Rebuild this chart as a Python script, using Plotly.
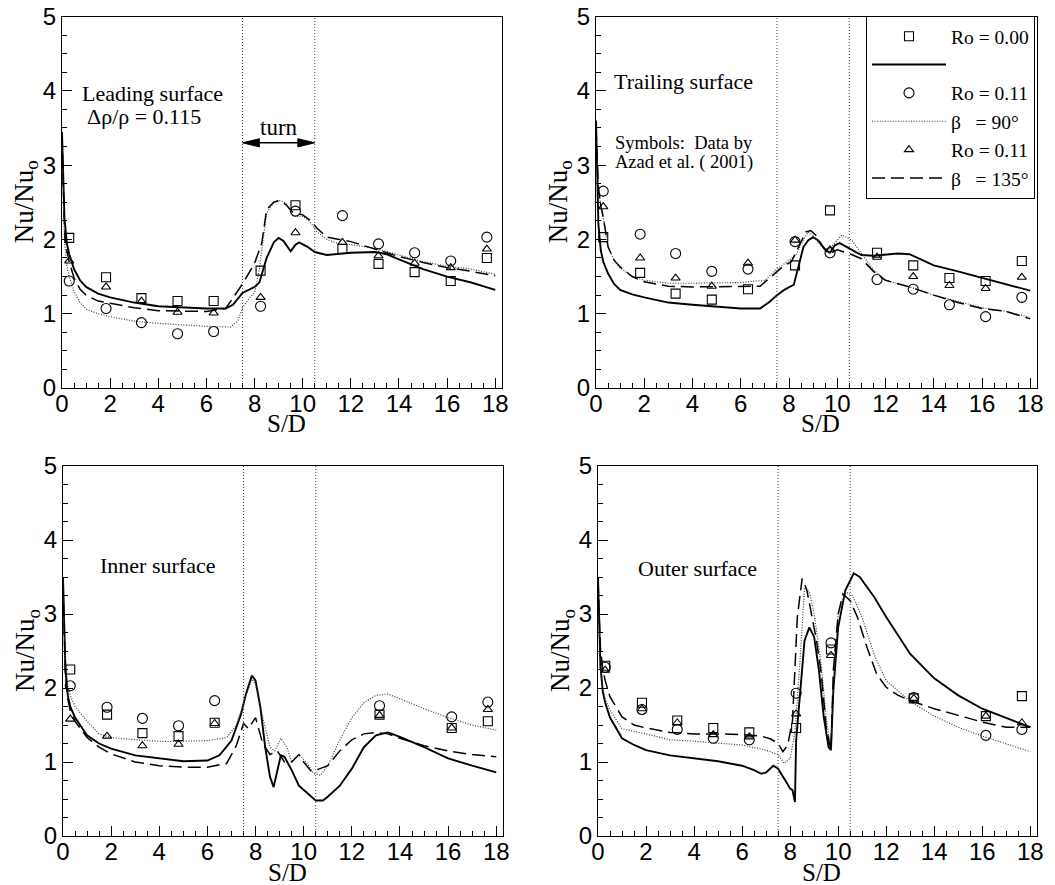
import plotly.graph_objects as go

# ---------------- data ----------------
S_EXP = [0.3, 1.83, 3.3, 4.8, 6.3, 8.25, 9.7, 11.65, 13.15, 14.65, 16.15, 17.65]

# Leading surface
LEAD_SQ = [2.02, 1.49, 1.21, 1.17, 1.17, 1.58, 2.46, 1.87, 1.67, 1.56, 1.44, 1.75]
LEAD_CI = [1.44, 1.07, 0.88, 0.73, 0.76, 1.10, 2.38, 2.32, 1.94, 1.82, 1.71, 2.03]
LEAD_TR = [1.71, 1.36, 1.17, 1.02, 1.01, 1.22, 2.09, 1.96, 1.78, 1.68, 1.62, 1.87]
LEAD_SOLID_X = [0, 0.05, 0.1, 0.2, 0.3, 0.5, 0.75, 1, 1.5, 2, 3, 4, 5, 6, 6.8, 7.1, 7.5, 8, 8.2, 8.5, 8.8, 9.0, 9.2, 9.5, 9.7, 9.85, 10.2, 10.5, 11, 12, 13, 13.5, 14, 15, 16, 17, 18]
LEAD_SOLID_Y = [3.45, 2.7, 2.3, 1.95, 1.8, 1.6, 1.45, 1.36, 1.27, 1.22, 1.15, 1.1, 1.08, 1.07, 1.07, 1.12, 1.28, 1.36, 1.42, 1.75, 1.96, 2.02, 1.98, 1.84, 1.93, 1.96, 1.9, 1.83, 1.79, 1.82, 1.83, 1.8, 1.73, 1.6, 1.5, 1.42, 1.32]
LEAD_DASH_X = [0, 0.05, 0.1, 0.2, 0.3, 0.5, 0.75, 1, 1.5, 2, 3, 4, 5, 6, 6.8, 7.2, 7.5, 8, 8.3, 8.5, 8.8, 9.0, 9.3, 9.6, 10, 10.3, 10.6, 11, 12, 13, 14, 15, 16, 17, 18]
LEAD_DASH_Y = [3.4, 2.6, 2.2, 1.85, 1.7, 1.48, 1.33, 1.25, 1.17, 1.14, 1.08, 1.04, 1.03, 1.03, 1.07, 1.25, 1.4, 1.68, 1.95, 2.4, 2.5, 2.52, 2.47, 2.36, 2.33, 2.26, 2.15, 2.03, 1.97, 1.87, 1.77, 1.69, 1.62, 1.57, 1.51]
LEAD_DOT_X = [0, 0.05, 0.1, 0.2, 0.3, 0.5, 0.75, 1, 1.5, 2, 3, 4, 5, 6, 7, 7.3, 7.5, 7.8, 8, 8.2, 8.5, 8.8, 9.0, 9.3, 9.6, 10, 10.3, 10.6, 11, 11.5, 12, 13, 14, 15, 16, 17, 18]
LEAD_DOT_Y = [3.3, 2.4, 2.0, 1.65, 1.5, 1.3, 1.15, 1.06, 1.0, 0.96, 0.9, 0.87, 0.85, 0.83, 0.82, 0.9, 1.08, 1.22, 1.28, 1.6, 2.35, 2.5, 2.53, 2.49, 2.31, 2.31, 2.24, 2.1, 2.0, 1.94, 1.93, 1.88, 1.79, 1.7, 1.64, 1.6, 1.53]

# Trailing surface
TRAIL_SQ = [2.03, 1.55, 1.27, 1.19, 1.33, 1.65, 2.39, 1.82, 1.65, 1.48, 1.44, 1.71]
TRAIL_CI = [2.65, 2.07, 1.81, 1.57, 1.60, 1.97, 1.82, 1.46, 1.33, 1.12, 0.96, 1.22]
TRAIL_TR = [2.44, 1.75, 1.48, 1.37, 1.68, 1.99, 1.86, 1.76, 1.50, 1.38, 1.34, 1.49]
TRAIL_SOLID_X = [0, 0.05, 0.1, 0.2, 0.3, 0.5, 0.75, 1, 1.5, 2, 3, 4, 5, 6, 6.8, 7.2, 7.5, 7.8, 8.2, 8.4, 8.6, 8.8, 9.0, 9.2, 9.5, 9.7, 9.9, 10.1, 10.5, 11, 11.5, 12, 12.5, 13, 14, 15, 16, 17, 18]
TRAIL_SOLID_Y = [3.6, 2.7, 2.2, 1.85, 1.7, 1.54, 1.4, 1.32, 1.26, 1.22, 1.15, 1.12, 1.09, 1.07, 1.07, 1.16, 1.25, 1.32, 1.39, 1.63, 1.9, 1.99, 2.03, 1.99, 1.86, 1.82, 1.92, 1.95, 1.88, 1.79, 1.78, 1.79, 1.81, 1.8, 1.65, 1.57, 1.48, 1.39, 1.31]
TRAIL_DASH_X = [0, 0.05, 0.1, 0.2, 0.3, 0.5, 0.75, 1, 1.5, 2, 3, 4, 5, 6, 6.8, 7.2, 7.5, 7.8, 8.1, 8.4, 8.7, 8.9, 9.1, 9.4, 9.7, 10, 10.5, 11, 11.5, 12, 13, 14, 15, 16, 17, 18]
TRAIL_DASH_Y = [3.5, 3.0, 2.7, 2.45, 2.3, 1.9, 1.72, 1.63, 1.5, 1.43, 1.37, 1.36, 1.36, 1.36, 1.37, 1.48, 1.57, 1.65, 1.7, 1.9, 2.1, 2.12, 2.06, 1.9, 1.81, 1.86, 1.81, 1.74, 1.57, 1.45, 1.36, 1.25, 1.15, 1.07, 1.03, 0.93]
TRAIL_DOT_X = [0, 0.05, 0.1, 0.2, 0.3, 0.5, 0.75, 1, 1.5, 2, 3, 4, 5, 6, 7, 7.5, 8, 8.3, 8.6, 8.8, 9.0, 9.3, 9.6, 9.9, 10.2, 10.6, 11, 11.5, 12, 13, 14, 15, 16, 17, 18]
TRAIL_DOT_Y = [3.5, 3.0, 2.7, 2.45, 2.3, 1.9, 1.72, 1.62, 1.5, 1.45, 1.41, 1.41, 1.42, 1.42, 1.45, 1.6, 1.72, 1.8, 2.0, 2.1, 2.05, 1.92, 1.85, 1.95, 2.06, 1.99, 1.81, 1.59, 1.45, 1.36, 1.25, 1.16, 1.08, 1.03, 0.95]

# Inner surface
INNER_SQ = [2.25, 1.64, 1.39, 1.35, 1.53, None, None, None, 1.64, None, 1.46, 1.55]
INNER_CI = [2.03, 1.74, 1.59, 1.49, 1.83, None, None, None, 1.76, None, 1.61, 1.81]
INNER_TR = [1.58, 1.35, 1.22, 1.24, 1.52, None, None, None, 1.63, None, 1.46, 1.71]
INNER_SOLID_X = [0, 0.05, 0.1, 0.2, 0.3, 0.5, 1, 1.5, 2, 3, 4, 5, 6, 6.5, 7, 7.4, 7.6, 7.85, 8.0, 8.2, 8.4, 8.6, 8.75, 8.9, 9.05, 9.2, 9.5, 9.8, 10.2, 10.5, 10.8, 11, 11.5, 12, 12.5, 13, 13.5, 14, 15, 16, 17, 18]
INNER_SOLID_Y = [3.5, 2.7, 2.25, 1.9, 1.75, 1.6, 1.36, 1.25, 1.18, 1.09, 1.05, 1.01, 1.02, 1.09, 1.29, 1.65, 1.92, 2.17, 2.1, 1.74, 1.2, 0.8, 0.66, 0.89, 1.09, 1.07, 0.89, 0.68, 0.56, 0.48, 0.48, 0.53, 0.68, 0.91, 1.2, 1.36, 1.4, 1.34, 1.2, 1.05, 0.95, 0.86]
INNER_DASH_X = [0, 0.05, 0.1, 0.2, 0.3, 0.5, 1, 1.5, 2, 3, 4, 5, 6, 6.8, 7.2, 7.5, 7.7, 8.0, 8.3, 8.6, 8.9, 9.2, 9.5, 9.8, 10.0, 10.3, 10.6, 11, 11.5, 12, 12.5, 13, 13.5, 14, 15, 16, 17, 18]
INNER_DASH_Y = [3.4, 2.6, 2.2, 1.85, 1.7, 1.55, 1.33, 1.2, 1.11, 1.0, 0.95, 0.93, 0.93, 0.98, 1.22, 1.52, 1.45, 1.6, 1.25, 1.1, 1.15, 1.0, 1.0, 1.1, 1.0, 0.88, 0.9, 0.95, 1.15, 1.3, 1.38, 1.4, 1.38, 1.32, 1.22, 1.15, 1.1, 1.07]
INNER_DOT_X = [0, 0.05, 0.1, 0.2, 0.3, 0.5, 1, 1.5, 2, 3, 4, 5, 6, 6.8, 7.2, 7.5, 7.85, 8.0, 8.3, 8.6, 8.8, 9.05, 9.3, 9.5, 9.8, 10.1, 10.4, 10.7, 11, 11.5, 12, 12.5, 13, 13.5, 14, 15, 16, 17, 18]
INNER_DOT_Y = [3.5, 2.8, 2.4, 2.05, 1.9, 1.75, 1.55, 1.38, 1.33, 1.3, 1.28, 1.28, 1.29, 1.33, 1.5, 1.8, 2.12, 2.05, 1.6, 1.2, 1.15, 1.32, 1.2, 1.0, 1.1, 1.0, 0.85, 0.82, 0.95, 1.3, 1.6, 1.8, 1.9, 1.92, 1.85, 1.72, 1.6, 1.5, 1.43]

# Outer surface
OUTER_SQ = [2.30, 1.80, 1.56, 1.46, 1.40, 1.46, 2.52, None, 1.86, None, 1.62, 1.89]
OUTER_CI = [2.28, 1.71, 1.44, 1.32, 1.30, 1.93, 2.61, None, 1.87, None, 1.36, 1.44]
OUTER_TR = [2.24, 1.72, 1.53, 1.37, 1.34, 1.65, 2.44, None, 1.86, None, 1.62, 1.53]
OUTER_SOLID_X = [0, 0.05, 0.1, 0.2, 0.3, 0.5, 1, 1.5, 2, 3, 4, 5, 6, 6.5, 6.8, 7.0, 7.3, 7.5, 7.8, 8.0, 8.1, 8.2, 8.25, 8.4, 8.6, 8.8, 9.0, 9.2, 9.4, 9.6, 9.7, 9.8, 10.0, 10.3, 10.65, 10.9, 11.5, 12, 13, 14, 15, 16, 17, 18]
OUTER_SOLID_Y = [3.5, 2.8, 2.3, 1.95, 1.8, 1.6, 1.32, 1.23, 1.16, 1.09, 1.05, 1.01, 0.95, 0.89, 0.84, 0.86, 0.95, 0.91, 0.75, 0.64, 0.62, 0.46, 1.29, 1.83, 2.64, 2.82, 2.69, 2.24, 1.61, 1.2, 1.16, 1.97, 2.82, 3.32, 3.55, 3.5, 3.23, 2.96, 2.46, 2.13, 1.9, 1.72, 1.59, 1.47]
OUTER_DASH_X = [0, 0.05, 0.1, 0.2, 0.3, 0.5, 1, 1.5, 2, 3, 4, 5, 6, 6.8, 7.2, 7.5, 7.7, 7.9, 8.1, 8.3, 8.5, 8.7, 8.9, 9.1, 9.3, 9.5, 9.7, 9.8, 10.0, 10.2, 10.5, 10.8, 11.2, 11.6, 12, 12.5, 13, 14, 15, 16, 17, 18]
OUTER_DASH_Y = [3.45, 2.9, 2.55, 2.25, 2.1, 1.88, 1.61, 1.5, 1.46, 1.4, 1.38, 1.38, 1.37, 1.35, 1.31, 1.25, 1.14, 1.23, 1.56, 2.96, 3.48, 3.32, 2.96, 2.64, 2.19, 1.47, 1.16, 2.24, 3.0, 3.27, 3.18, 2.96, 2.55, 2.19, 2.01, 1.9, 1.83, 1.72, 1.63, 1.54, 1.47, 1.47]
OUTER_DOT_X = [0, 0.05, 0.1, 0.2, 0.3, 0.5, 1, 2, 3, 4, 5, 6, 7, 7.5, 7.75, 8.0, 8.2, 8.4, 8.6, 8.8, 9.0, 9.3, 9.5, 9.7, 9.8, 10.0, 10.3, 10.6, 11, 11.5, 12, 13, 14, 15, 16, 17, 18]
OUTER_DOT_Y = [3.4, 2.7, 2.35, 2.0, 1.85, 1.7, 1.45, 1.38, 1.3, 1.28, 1.26, 1.23, 1.16, 1.1, 0.98, 1.05, 1.4, 2.3, 3.35, 3.3, 3.0, 2.3, 1.6, 1.15, 2.0, 3.0, 3.3, 3.25, 2.95, 2.45, 2.1, 1.82, 1.62, 1.47, 1.35, 1.25, 1.14]

TURN_BOUNDS = [7.5, 10.5]
X_TICKS = [0, 2, 4, 6, 8, 10, 12, 14, 16, 18]
Y_TICKS = [0, 1, 2, 3, 4, 5]

LEGEND_NAMES = ["Ro = 0.00", " ", "Ro = 0.11", "β\u00a0\u00a0\u00a0= 90°", "Ro = 0.11", "β\u00a0\u00a0\u00a0= 135°"]

# ---------------- layout constants ----------------
# The page body adds an 8 px margin, so the figure is drawn 8 px smaller and
# reference pixel positions are shifted by OFF.
OFF = 8
W, H = 1055 - OFF, 885 - OFF
X_RANGE = [0, 18.28]
SERIF = "Liberation Serif, Times New Roman, serif"
SANS = "Liberation Sans, Arial, sans-serif"

# panel boxes in reference window pixels (left, right, top, bottom)
BOXES = [(62, 502, 16.5, 388), (596, 1037, 16.5, 388), (63, 503, 466, 836), (598, 1037, 466, 836)]

def px_x(v):
    return (v - OFF) / W

def px_y(v):
    return (H - (v - OFF)) / H

panels = [
    dict(sq=LEAD_SQ, ci=LEAD_CI, tr=LEAD_TR, solid=(LEAD_SOLID_X, LEAD_SOLID_Y), dash=(LEAD_DASH_X, LEAD_DASH_Y), dot=(LEAD_DOT_X, LEAD_DOT_Y)),
    dict(sq=TRAIL_SQ, ci=TRAIL_CI, tr=TRAIL_TR, solid=(TRAIL_SOLID_X, TRAIL_SOLID_Y), dash=(TRAIL_DASH_X, TRAIL_DASH_Y), dot=(TRAIL_DOT_X, TRAIL_DOT_Y)),
    dict(sq=INNER_SQ, ci=INNER_CI, tr=INNER_TR, solid=(INNER_SOLID_X, INNER_SOLID_Y), dash=(INNER_DASH_X, INNER_DASH_Y), dot=(INNER_DOT_X, INNER_DOT_Y)),
    dict(sq=OUTER_SQ, ci=OUTER_CI, tr=OUTER_TR, solid=(OUTER_SOLID_X, OUTER_SOLID_Y), dash=(OUTER_DASH_X, OUTER_DASH_Y), dot=(OUTER_DOT_X, OUTER_DOT_Y)),
]

fig = go.Figure()

SOLID = dict(color="black", width=1.9)
DOT = dict(color="#3a3a3a", width=1.2, dash="1px,1.6px")
DASH = dict(color="black", width=1.5, dash="13px,6px")

for i, p in enumerate(panels):
    sfx = "" if i == 0 else str(i + 1)
    xa, ya = "x" + sfx, "y" + sfx
    show = (i == 1)
    fig.add_trace(go.Scatter(x=p["solid"][0], y=p["solid"][1], mode="lines", line=SOLID,
                             xaxis=xa, yaxis=ya, name=LEGEND_NAMES[1], showlegend=show, legendrank=2))
    fig.add_trace(go.Scatter(x=p["dot"][0], y=p["dot"][1], mode="lines", line=DOT,
                             xaxis=xa, yaxis=ya, name=LEGEND_NAMES[3], showlegend=show, legendrank=4))
    fig.add_trace(go.Scatter(x=p["dash"][0], y=p["dash"][1], mode="lines", line=DASH,
                             xaxis=xa, yaxis=ya, name=LEGEND_NAMES[5], showlegend=show, legendrank=6))
    fig.add_trace(go.Scatter(x=S_EXP, y=p["sq"], mode="markers",
                             marker=dict(symbol="square-open", size=9, color="black", line=dict(width=1.1)),
                             xaxis=xa, yaxis=ya, name=LEGEND_NAMES[0], showlegend=show, legendrank=1))
    fig.add_trace(go.Scatter(x=S_EXP, y=p["ci"], mode="markers",
                             marker=dict(symbol="circle-open", size=10, color="black", line=dict(width=1.1)),
                             xaxis=xa, yaxis=ya, name=LEGEND_NAMES[2], showlegend=show, legendrank=3))
    fig.add_trace(go.Scatter(x=S_EXP, y=p["tr"], mode="markers",
                             marker=dict(symbol="triangle-up-open", size=8, color="black", line=dict(width=1.1)),
                             xaxis=xa, yaxis=ya, name=LEGEND_NAMES[4], showlegend=show, legendrank=5))

layout = dict(template="none", width=W, height=H, margin=dict(l=0, r=0, t=0, b=0, pad=0, autoexpand=False),
              paper_bgcolor="white", plot_bgcolor="white", showlegend=True)

for i, (l, r, t, b) in enumerate(BOXES):
    sfx = "" if i == 0 else str(i + 1)
    xdom = [px_x(l), px_x(r)]
    ydom = [px_y(b), px_y(t)]
    layout["xaxis" + sfx] = dict(
        domain=xdom, range=X_RANGE, anchor="y" + sfx, tickmode="array", tickvals=X_TICKS,
        showline=True, linecolor="black", linewidth=1.2, mirror=True, automargin=False,
        ticks="inside", ticklen=10, tickwidth=1.1, tickcolor="black",
        minor=dict(dtick=0.5, tick0=0, ticks="inside", ticklen=5, tickwidth=1, tickcolor="black", showgrid=False),
        showgrid=False, zeroline=False, ticklabelstandoff=-6, ticklabeloverflow="allow",
        tickfont=dict(family=SANS, size=24, color="black"))
    layout["yaxis" + sfx] = dict(
        domain=ydom, range=[0, 5], anchor="x" + sfx, tickmode="array", tickvals=Y_TICKS,
        showline=True, linecolor="black", linewidth=1.2, mirror=True, automargin=False,
        ticks="inside", ticklen=10, tickwidth=1.1, tickcolor="black",
        minor=dict(dtick=0.25, tick0=0, ticks="inside", ticklen=5, tickwidth=1, tickcolor="black", showgrid=False),
        showgrid=False, zeroline=False, ticklabelstandoff=0, ticklabeloverflow="allow",
        tickfont=dict(family=SANS, size=24, color="black"))

layout["legend"] = dict(x=px_x(1035), xanchor="right", y=px_y(16), yanchor="top",
                        bgcolor="white", bordercolor="black", borderwidth=1,
                        font=dict(family=SERIF, size=19.5, color="black"),
                        itemwidth=74, tracegroupgap=0, traceorder="normal")

fig.update_layout(**layout)

# turn boundaries (dotted verticals)
shapes = []
for i in range(4):
    sfx = "" if i == 0 else str(i + 1)
    for xb in TURN_BOUNDS:
        shapes.append(dict(type="line", xref="x" + sfx, yref="y" + sfx + " domain", x0=xb, x1=xb, y0=0, y1=1,
                           line=dict(color="#444", width=1, dash="1px,2px")))

# "turn" double arrow in leading panel
ARROW_Y = 3.3
HEAD_L, HEAD_H = 0.7, 0.055
a0, a1 = TURN_BOUNDS
shapes.append(dict(type="line", xref="x", yref="y", x0=a0 + HEAD_L * 0.5, x1=a1 - HEAD_L * 0.5, y0=ARROW_Y, y1=ARROW_Y,
                   line=dict(color="black", width=1.5)))
shapes.append(dict(type="path", xref="x", yref="y",
                   path=f"M {a0},{ARROW_Y} L {a0 + HEAD_L},{ARROW_Y + HEAD_H} L {a0 + HEAD_L},{ARROW_Y - HEAD_H} Z",
                   fillcolor="black", line=dict(color="black", width=1)))
shapes.append(dict(type="path", xref="x", yref="y",
                   path=f"M {a1},{ARROW_Y} L {a1 - HEAD_L},{ARROW_Y + HEAD_H} L {a1 - HEAD_L},{ARROW_Y - HEAD_H} Z",
                   fillcolor="black", line=dict(color="black", width=1)))
fig.update_layout(shapes=shapes)

ann = []
def txt(text, x, y, xref, yref, size=22, xanchor="left", **kw):
    d = dict(text=text, x=x, y=y, xref=xref, yref=yref, showarrow=False, xanchor=xanchor, yanchor="middle",
             font=dict(family=SERIF, size=size, color="black"))
    d.update(kw)
    ann.append(d)

txt("Leading surface", 0.75, 3.97, "x", "y")
txt("Δρ/ρ = 0.115", 0.96, 3.65, "x", "y")
txt("turn", 9.0, 3.5, "x", "y", size=23, xanchor="center")
txt("Trailing surface", 0.65, 4.12, "x2", "y2")
txt("Symbols:\u00a0 Data by", 0.72, 3.30, "x2", "y2", size=18.5)
txt("Azad et al. ( 2001)", 0.72, 3.03, "x2", "y2", size=18.5)
txt("Inner surface", 1.45, 3.66, "x3", "y3")
txt("Outer surface", 1.59, 3.61, "x4", "y4")

for i in range(4):
    sfx = "" if i == 0 else str(i + 1)
    txt("S/D", 0.51, 0, "x" + sfx + " domain", "y" + sfx + " domain", size=25, xanchor="center", yshift=-36)
    txt("Nu/Nu<sub>o</sub>", 0, 0.5, "x" + sfx + " domain", "y" + sfx + " domain", size=27,
        xanchor="center", xshift=-36, textangle=-90)

fig.update_layout(annotations=ann)

fig.write_html("out.html")
